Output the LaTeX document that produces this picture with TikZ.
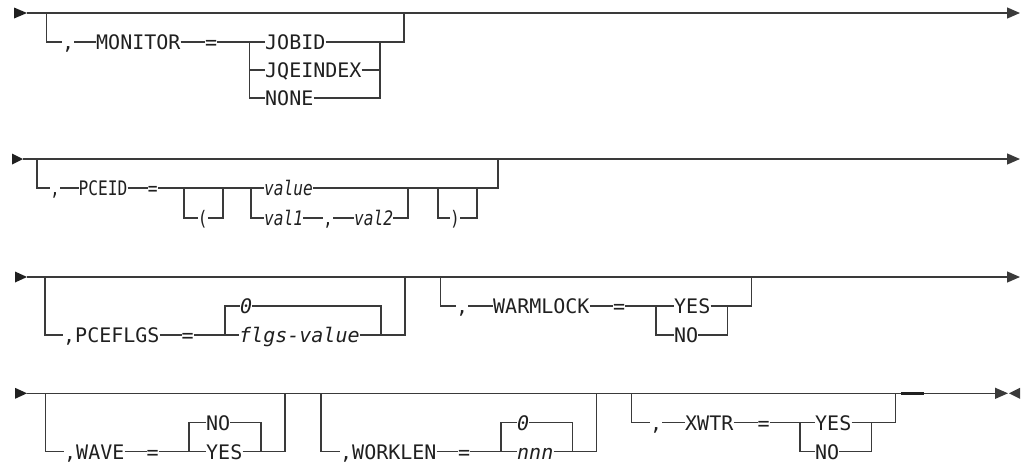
\documentclass[tikz,border=0pt]{standalone}
\usepackage{fontspec}
\usepackage{graphicx}
\usetikzlibrary{arrows.meta}
\newfontfamily\dmonofam{DejaVu Sans Mono}
\newcommand\dmono{\dmonofam\fontsize{20pt}{20pt}\selectfont}
\newcommand\dmonoit{\dmonofam\fontsize{20pt}{20pt}\selectfont\itshape}
\newcommand\nx[1]{\scalebox{0.81}[1]{#1}}
\definecolor{lc}{HTML}{3A3A3A}
\definecolor{tc}{HTML}{202020}
\tikzset{
  ln/.style={draw=lc, line width=1.3pt, line join=miter},
  tx/.style={font=\dmono, text=tc, inner xsep=0pt, inner ysep=0pt, text height=14.6pt, text depth=0pt, anchor=west},
  ti/.style={tx, font=\dmonoit},
  endarrow/.style={ln, -{Triangle[length=13pt,width=11pt]}},
}
\newcommand\startarrow[3]{\fill[tc] (#1,#3-5.5) -- (#2,#3) -- (#1,#3+5.5) -- cycle;}
\begin{document}
\begin{tikzpicture}[x=1pt,y=-1pt]
\fill[white] (0,0) rectangle (1021,464);
\useasboundingbox (0,0) rectangle (1021,464);

% ---------------- Row 1 ----------------
\startarrow{14}{27}{13}
\coordinate (s1) at (27,13);
\coordinate (e1) at (1020,13);
\draw[endarrow] (s1) -- (e1);
\coordinate (b1l) at (46.7,13);
\coordinate (b1r) at (404,13);
\coordinate (c1l) at (249.3,42);
\coordinate (c1r) at (380,42);
\node[tx] (m1c) at (62,42) {,};
\node[tx] (m1k) at (96,42) {MONITOR};
\node[tx] (m1e) at (205,42) {=};
\node[tx] (m1a) at (265,42) {JOBID};
\node[tx] (m1b) at (265,70) {JQEINDEX};
\node[tx] (m1n) at (265,98) {NONE};
\draw[ln] (b1l) |- (m1c.west);
\draw[ln] (m1c.east) -- (m1k.west);
\draw[ln] (m1k.east) -- (m1e.west);
\draw[ln] (m1e.east) -- (m1a.west);
\draw[ln] (c1l) |- (m1b.west);
\draw[ln] (c1l) |- (m1n.west);
\draw[ln] (m1a.east) -| (b1r);
\draw[ln] (m1b.east) -| (c1r);
\draw[ln] (m1n.east) -| (c1r);

% ---------------- Row 2 ----------------
\startarrow{12}{23}{159}
\coordinate (s2) at (23,159);
\coordinate (e2) at (1020,159);
\draw[endarrow] (s2) -- (e2);
\coordinate (b2l) at (37,159);
\coordinate (b2r) at (498,159);
\coordinate (o2l) at (184,188);
\coordinate (o2r) at (223,188);
\coordinate (c2l) at (251,188);
\coordinate (c2r) at (408,188);
\coordinate (q2l) at (438,188);
\coordinate (q2r) at (477,188);
\node[tx] (p2c) at (50,188) {\nx{,}};
\node[tx] (p2k) at (78.5,188) {\nx{PCEID}};
\node[tx] (p2e) at (147.6,188) {\nx{=}};
\node[tx] (p2o) at (197.6,218) {\nx{(}};
\node[ti] (p2v) at (264,188) {\nx{value}};
\node[ti] (p2a) at (264,218) {\nx{val1}};
\node[tx] (p2m) at (323,218) {\nx{,}};
\node[ti] (p2b) at (354,218) {\nx{val2}};
\node[tx] (p2p) at (450,218) {\nx{)}};
\draw[ln] (b2l) |- (p2c.west);
\draw[ln] (p2c.east) -- (p2k.west);
\draw[ln] (p2k.east) -- (p2e.west);
\draw[ln] (p2e.east) -- (p2v.west);
\draw[ln] (o2l) |- (p2o.west);
\draw[ln] (p2o.east) -| (o2r);
\draw[ln] (c2l) |- (p2a.west);
\draw[ln] (p2a.east) -- (p2m.west);
\draw[ln] (p2m.east) -- (p2b.west);
\draw[ln] (p2b.east) -| (c2r);
\draw[ln] (p2v.east) -| (b2r);
\draw[ln] (q2l) |- (p2p.west);
\draw[ln] (p2p.east) -| (q2r);

% ---------------- Row 3 ----------------
\startarrow{15}{27}{277}
\coordinate (s3) at (27,277);
\coordinate (e3) at (1020,277);
\draw[endarrow] (s3) -- (e3);
\coordinate (b3l) at (45,277);
\coordinate (b3r) at (405,277);
\coordinate (c3l) at (225,335);
\coordinate (c3r) at (381,335);
\coordinate (d3l) at (440.7,277);
\coordinate (d3r) at (751.7,277);
\coordinate (k3l) at (656,306);
\coordinate (k3r) at (727.3,306);
\node[tx] (f3k) at (63,335) {,PCEFLGS};
\node[tx] (f3e) at (181.5,335) {=};
\node[ti] (f3z) at (240,306) {0};
\node[ti] (f3v) at (239,335) {flgs-value};
\node[tx] (w3c) at (456,306) {,};
\node[tx] (w3k) at (493,306) {WARMLOCK};
\node[tx] (w3e) at (613,306) {=};
\node[tx] (w3y) at (674,306) {YES};
\node[tx] (w3n) at (674,335) {NO};
\draw[ln] (b3l) |- (f3k.west);
\draw[ln] (f3k.east) -- (f3e.west);
\draw[ln] (f3e.east) -- (f3v.west);
\draw[ln] (c3l) |- (f3z.west);
\draw[ln] (f3z.east) -| (c3r);
\draw[ln] (f3v.east) -| (b3r);
\draw[ln] (d3l) |- (w3c.west);
\draw[ln] (w3c.east) -- (w3k.west);
\draw[ln] (w3k.east) -- (w3e.west);
\draw[ln] (w3e.east) -- (w3y.west);
\draw[ln] (k3l) |- (w3n.west);
\draw[ln] (w3n.east) -| (k3r);
\draw[ln] (w3y.east) -| (d3r);

% ---------------- Row 4 ----------------
\startarrow{15}{27}{393.3}
\coordinate (s4) at (27,393.3);
\coordinate (e4) at (1008,393.3);
\draw[endarrow] (s4) -- (e4);
\fill[lc] (1020,387.8) -- (1009,393.3) -- (1020,398.8) -- cycle;
\coordinate (tb1) at (901,393.3);
\coordinate (tb2) at (924,393.3);
\draw[tc, line width=2.4pt] (tb1) -- (tb2);
% WAVE
\coordinate (b4l) at (45.7,393.3);
\coordinate (b4r) at (285,393.3);
\coordinate (c4l) at (189,451.7);
\coordinate (c4r) at (261,451.7);
\node[tx] (v4k) at (64,451.7) {,WAVE};
\node[tx] (v4e) at (146.5,451.7) {=};
\node[tx] (v4n) at (206,422.7) {NO};
\node[tx] (v4y) at (206,451.7) {YES};
\draw[ln] (b4l) |- (v4k.west);
\draw[ln] (v4k.east) -- (v4e.west);
\draw[ln] (v4e.east) -- (v4y.west);
\draw[ln] (c4l) |- (v4n.west);
\draw[ln] (v4n.east) -| (c4r);
\draw[ln] (v4y.east) -| (b4r);
% WORKLEN
\coordinate (g4l) at (321,393.3);
\coordinate (g4r) at (596.2,393.3);
\coordinate (h4l) at (501,451.7);
\coordinate (h4r) at (572.4,451.7);
\node[tx] (k4k) at (340,451.7) {,WORKLEN};
\node[tx] (k4e) at (458,451.7) {=};
\node[ti] (k4z) at (517,422.7) {0};
\node[ti] (k4v) at (517,451.7) {nnn};
\draw[ln] (g4l) |- (k4k.west);
\draw[ln] (k4k.east) -- (k4e.west);
\draw[ln] (k4e.east) -- (k4v.west);
\draw[ln] (h4l) |- (k4z.west);
\draw[ln] (k4z.east) -| (h4r);
\draw[ln] (k4v.east) -| (g4r);
% XWTR
\coordinate (y4l) at (631.7,393.3);
\coordinate (y4r) at (895.5,393.3);
\coordinate (z4l) at (800,422.7);
\coordinate (z4r) at (871.4,422.7);
\node[tx] (x4c) at (650,422.7) {,};
\node[tx] (x4k) at (685,422.7) {XWTR};
\node[tx] (x4e) at (757.5,422.7) {=};
\node[tx] (x4y) at (815,422.7) {YES};
\node[tx] (x4n) at (815,451.7) {NO};
\draw[ln] (y4l) |- (x4c.west);
\draw[ln] (x4c.east) -- (x4k.west);
\draw[ln] (x4k.east) -- (x4e.west);
\draw[ln] (x4e.east) -- (x4y.west);
\draw[ln] (z4l) |- (x4n.west);
\draw[ln] (x4n.east) -| (z4r);
\draw[ln] (x4y.east) -| (y4r);
\end{tikzpicture}
\end{document}
